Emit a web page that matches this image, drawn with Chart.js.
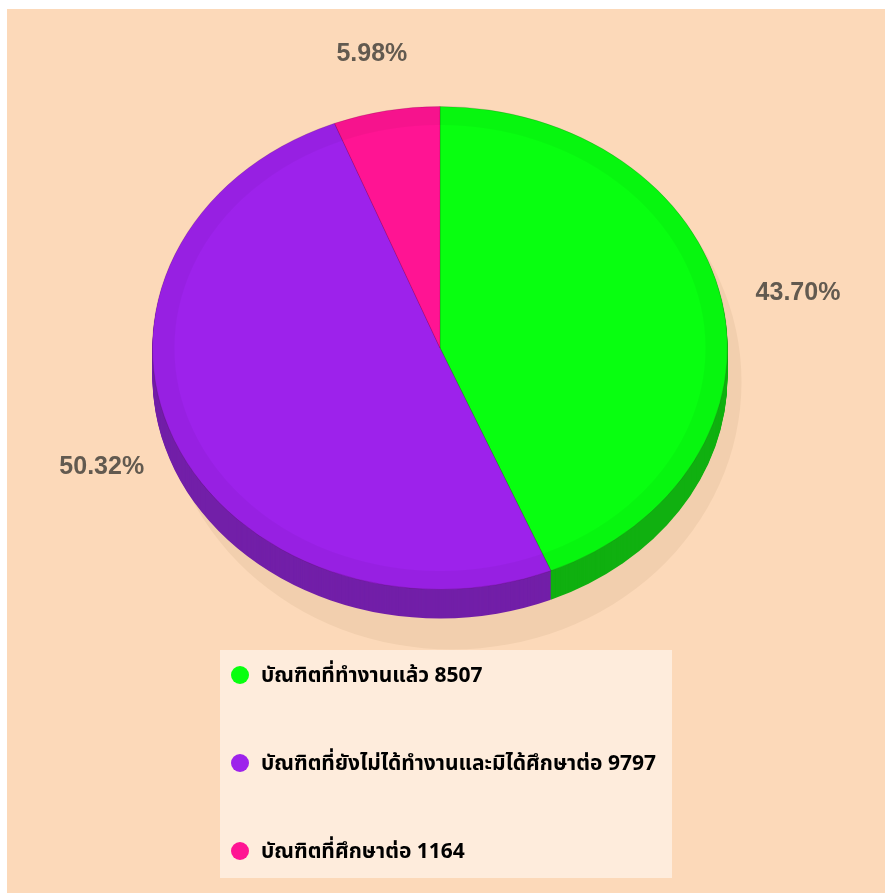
<!DOCTYPE html>
<html>
<head>
<meta charset="utf-8">
<script src="https://cdn.jsdelivr.net/npm/chart.js@4.4.0/dist/chart.umd.min.js"></script>
<style>
  html, body { margin: 0; padding: 0; background: #fff; }
  #panel {
    position: absolute; left: 7px; top: 9px; width: 878px; height: 884px;
    background: #fcd9b9;
  }
  #pie { position: absolute; left: 0; top: 0; }
  #legend {
    position: absolute; left: 213px; top: 641px; width: 452px; height: 228px;
    background: rgba(255, 255, 255, 0.5);
    font-family: Tahoma, "Noto Sans Thai", "DejaVu Sans", sans-serif;
    font-weight: bold; font-size: 21px; color: #000;
  }
  .item { position: absolute; left: 11px; height: 24px; line-height: 24px; white-space: nowrap; }
  .dot {
    display: inline-block; width: 18px; height: 18px; border-radius: 50%;
    vertical-align: middle; margin-right: 12px; margin-top: -3px;
  }
</style>
</head>
<body>
<div id="panel">
  <canvas id="pie" width="878" height="884"></canvas>
  <div id="legend"></div>
</div>
<script>
// data
const labels = ['บัณฑิตที่ทำงานแล้ว', 'บัณฑิตที่ยังไม่ได้ทำงานและมิได้ศึกษาต่อ', 'บัณฑิตที่ศึกษาต่อ'];
const counts = [8507, 9797, 1164];
const topColors = ['#08ff10', '#9d22eb', '#ff1493'];
const sideColors = ['#10b010', '#721fa8', '#b80f6a'];

const total = counts.reduce((a, b) => a + b, 0);
const squash = 0.84;   // vertical squash of the pie face
const depth = 29;      // thickness of the pie edge

// legend (plain html, built from the arrays)
const legendBox = document.getElementById('legend');
labels.forEach((name, i) => {
    const row = document.createElement('div');
    row.className = 'item';
    row.style.top = (14 + i * 88) + 'px';
    row.innerHTML = '<span class="dot" style="background:' + topColors[i] + '"></span>' + name + ' ' + counts[i];
    legendBox.appendChild(row);
});

function sector(ctx, a, dy) {
    ctx.beginPath();
    ctx.moveTo(a.x, a.y + dy);
    ctx.arc(a.x, a.y + dy, a.outerRadius, a.startAngle, a.endAngle);
    ctx.closePath();
}

const pie3d = {
    id: 'pie3d',
    beforeDatasetsDraw(chart) {
        const ctx = chart.ctx;
        const arcs = chart.getDatasetMeta(0).data;
        const a0 = arcs[0];
        // drop shadow
        ctx.save();
        ctx.fillStyle = '#f2cfae';
        ctx.beginPath();
        ctx.ellipse(a0.x + 12, a0.y + 34, a0.outerRadius + 2, a0.outerRadius * squash + 26, 0, 0, Math.PI * 2);
        ctx.fill();
        ctx.restore();

        ctx.save();
        ctx.translate(a0.x, a0.y);
        ctx.scale(1, squash);
        ctx.translate(-a0.x, -a0.y);
        // edge
        for (let d = depth; d >= 1; d--) {
            arcs.forEach((a, i) => {
                ctx.fillStyle = sideColors[i];
                sector(ctx, a, d / squash);
                ctx.fill();
            });
        }
    },
    afterDatasetsDraw(chart) {
        const ctx = chart.ctx;
        const arcs = chart.getDatasetMeta(0).data;
        const a0 = arcs[0];
        // faint rim shading on the face
        ctx.strokeStyle = 'rgba(0,0,0,0.035)';
        ctx.lineWidth = 22;
        ctx.beginPath();
        ctx.arc(a0.x, a0.y, a0.outerRadius - 11, 0, Math.PI * 2);
        ctx.stroke();
        ctx.restore();

        // percentage labels
        ctx.save();
        ctx.font = 'bold 25px "Liberation Sans", Arial, sans-serif';
        ctx.fillStyle = '#625a50';
        ctx.textAlign = 'center';
        ctx.textBaseline = 'middle';
        arcs.forEach((a, i) => {
            const mid = (a.startAngle + a.endAngle) / 2;
            const r = a.outerRadius * 1.27;
            const x = a.x + Math.cos(mid) * r;
            const y = a.y + 5 + Math.sin(mid) * a.outerRadius * 1.3 * squash * 0.97;
            ctx.fillText((counts[i] / total * 100).toFixed(2) + '%', x, y);
        });
        ctx.restore();
    }
};

new Chart(document.getElementById('pie'), {
    type: 'pie',
    data: {
        labels: labels,
        datasets: [{
            data: counts,
            backgroundColor: topColors,
            borderColor: 'rgba(60,0,30,0.18)',
            borderWidth: 1
        }]
    },
    options: {
        responsive: false,
        animation: false,
        layout: { padding: { left: 145, right: 157, top: 51, bottom: 257 } },
        plugins: { legend: { display: false }, tooltip: { enabled: false } }
    },
    plugins: [pie3d]
});
</script>
</body>
</html>
